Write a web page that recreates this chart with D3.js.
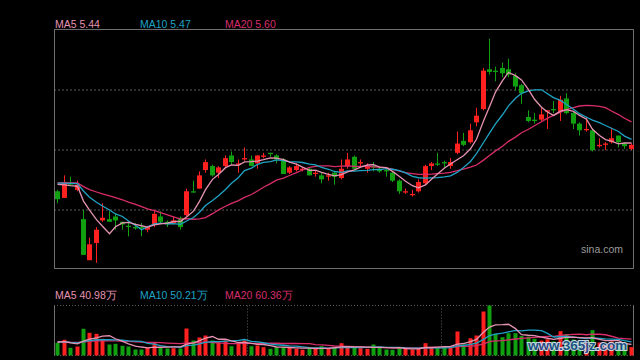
<!DOCTYPE html>
<html><head><meta charset="utf-8">
<script src="https://cdn.jsdelivr.net/npm/d3@7"></script>
<style>html,body{margin:0;padding:0;background:#000;}svg{display:block;}</style>
</head><body>
<svg id="c" width="640" height="360"></svg>
<script>
// ---- data ----
const opens = [5.08,5.03,5.14,5.09,4.87,4.56,4.69,4.86,4.87,4.89,
4.85,4.82,4.81,4.81,4.79,4.83,4.89,4.85,4.84,4.88,
4.90,5.08,5.10,5.24,5.27,5.22,5.27,5.35,5.28,5.32,
5.32,5.29,5.34,5.37,5.35,5.32,5.22,5.24,5.24,5.25,
5.21,5.20,5.19,5.22,5.18,5.27,5.34,5.29,5.25,5.27,
5.25,5.24,5.22,5.16,5.07,5.05,5.08,5.14,5.27,5.29,
5.30,5.27,5.37,5.46,5.45,5.60,5.70,6.00,5.99,6.01,
6.00,5.95,5.88,5.64,5.62,5.62,5.68,5.70,5.68,5.78,
5.67,5.59,5.54,5.54,5.42,5.43,5.45,5.50,5.44,5.40];
const closes = [5.02,5.15,5.13,5.13,4.60,4.68,4.79,4.88,4.85,4.86,
4.83,4.81,4.80,4.80,4.81,4.91,4.85,4.83,4.86,4.81,
5.08,5.07,5.20,5.30,5.20,5.26,5.33,5.30,5.29,5.33,
5.27,5.35,5.35,5.36,5.32,5.21,5.26,5.27,5.25,5.20,
5.22,5.17,5.20,5.19,5.25,5.32,5.25,5.30,5.27,5.26,
5.23,5.23,5.16,5.08,5.08,5.06,5.15,5.27,5.29,5.28,
5.29,5.30,5.44,5.43,5.54,5.65,5.99,5.98,5.98,5.97,
5.96,5.87,5.82,5.61,5.61,5.66,5.69,5.69,5.77,5.67,
5.59,5.54,5.55,5.39,5.43,5.44,5.48,5.45,5.42,5.43];
const highs = [5.09,5.20,5.19,5.16,4.94,4.73,4.81,4.99,4.93,4.91,
4.85,4.85,4.84,4.84,4.81,4.94,4.93,4.86,4.89,4.89,
5.10,5.16,5.23,5.32,5.28,5.27,5.35,5.38,5.32,5.41,
5.35,5.35,5.37,5.37,5.36,5.33,5.27,5.29,5.26,5.26,
5.24,5.22,5.22,5.23,5.32,5.37,5.35,5.32,5.29,5.30,
5.27,5.25,5.23,5.17,5.10,5.09,5.17,5.28,5.30,5.37,
5.31,5.33,5.53,5.52,5.59,5.71,6.01,6.23,6.02,6.05,
6.08,5.97,5.89,5.69,5.67,5.71,5.69,5.76,5.80,5.82,
5.68,5.60,5.64,5.55,5.48,5.45,5.56,5.50,5.45,5.44];
const lows = [4.99,5.03,5.13,5.08,4.60,4.56,4.54,4.85,4.85,4.79,
4.79,4.74,4.79,4.74,4.77,4.81,4.84,4.81,4.83,4.79,
4.89,5.07,5.10,5.22,5.19,5.18,5.26,5.28,5.22,5.31,
5.27,5.25,5.33,5.34,5.29,5.21,5.21,5.23,5.23,5.20,
5.19,5.14,5.16,5.13,5.17,5.25,5.24,5.27,5.22,5.23,
5.22,5.19,5.15,5.06,5.06,5.04,5.07,5.13,5.24,5.27,
5.26,5.25,5.36,5.42,5.44,5.57,5.69,5.96,5.91,5.94,
5.94,5.84,5.74,5.60,5.59,5.61,5.55,5.67,5.61,5.66,
5.55,5.50,5.53,5.38,5.41,5.39,5.44,5.41,5.40,5.39];
// volume, 万 (10k shares)
const volumes = [47.0,58.1,28.5,33.3,98.8,84.0,80.3,61.8,40.7,43.3,
35.9,33.3,22.2,22.2,28.5,49.2,30.7,25.9,27.0,25.9,
99.9,55.5,66.6,74.0,55.5,49.2,55.5,34.4,45.5,55.5,
34.4,37.0,30.7,24.8,30.7,30.7,30.7,24.8,21.1,28.5,
24.8,34.4,24.8,30.7,45.5,28.5,28.5,27.0,24.8,40.7,
30.7,22.2,21.1,30.7,24.8,22.2,24.8,45.5,30.7,30.7,
30.7,30.7,88.8,40.7,64.0,74.0,162.8,185.0,80.3,67.7,
82.5,82.5,72.0,70.0,62.0,55.0,60.0,52.0,90.0,79.1,
59.2,51.8,44.4,93.7,48.1,37.0,51.8,44.4,40.7,31.0];
// sessions before the window (needed for the moving-average warm-up)
const closePrior = [5.14,5.15,5.13,5.16,5.15,5.14,5.16,5.15,5.13,5.15,
5.16,5.14,5.15,5.16,5.15,5.17,5.16,5.15,5.16];
const volPrior = [48,52,45,55,50,47,53,49,51,46,54,50,48,52,47,51,53,49,50];
const maPeriods = [5, 10, 20];
const maNames = ["MA5", "MA10", "MA20"];
const priceDomain = [4.49, 6.30];
const monthBreaks = [30, 60];

// ---- styles ----
const maColors = ["#e593b2", "#1fa3c4", "#d92d6b"];
const upColor = "#ff2020", downColor = "#10a010";
const gridColor = "#5a5a5a", borderColor = "#6e6e6e";
const font = "'Liberation Sans', Arial, sans-serif";

const svg = d3.select("#c");
svg.append("rect").attr("width",640).attr("height",360).attr("fill","#000");

const L = 54, R = 634, T = 29.5, B = 269.5;
const VT = 305.5, VB = 355.5;
const n = closes.length;
const x = d3.scaleBand().domain(d3.range(n)).range([L, R]);
const cx = i => Math.round(x(i) + x.bandwidth()/2);
const y = d3.scaleLinear().domain(priceDomain).range([B, T]);
const yv = d3.scaleLinear().domain([0, d3.max(volumes)]).range([VB, VT]);

function movingAvg(prior, vals, p) {
  const all = prior.concat(vals), off = prior.length;
  return vals.map((v, i) => d3.mean(all.slice(off + i - p + 1, off + i + 1)));
}
const priceMA = maPeriods.map(p => movingAvg(closePrior, closes, p));
const volMA = maPeriods.map(p => movingAvg(volPrior, volumes, p));

// grid (main)
const gGrid = svg.append("g");
[1,2,3].forEach(k => {
  const yy = Math.round(T + (B - T) * k / 4);
  gGrid.append("line").attr("x1", L).attr("x2", R).attr("y1", yy).attr("y2", yy)
    .attr("stroke", gridColor).attr("stroke-width", 1).attr("stroke-dasharray", "2,2");
});
svg.append("rect").attr("x", L + 0.5).attr("y", T).attr("width", R - L - 1).attr("height", B - T - 1)
  .attr("fill", "none").attr("stroke", borderColor);

// candles
const gC = svg.append("g");
d3.range(n).forEach(i => {
  const up = closes[i] >= opens[i];
  const col = up ? upColor : downColor;
  const c = cx(i);
  gC.append("line").attr("x1", c + 0.5).attr("x2", c + 0.5)
    .attr("y1", y(highs[i])).attr("y2", y(lows[i])).attr("stroke", col).attr("stroke-width", 1);
  const top = y(Math.max(opens[i], closes[i])), bot = y(Math.min(opens[i], closes[i]));
  gC.append("rect").attr("x", c - 2).attr("width", 5)
    .attr("y", top).attr("height", Math.max(1, bot - top)).attr("fill", col);
});

// price MAs
const lineP = d3.line().x((d, i) => cx(i) + 0.5).y(d => y(d));
[2,1,0].forEach(k => {
  svg.append("path").attr("d", lineP(priceMA[k])).attr("fill", "none")
    .attr("stroke", maColors[k]).attr("stroke-width", 1.3);
});

// top legend
const legX = [55, 140, 225];
maNames.forEach((nm, k) => {
  svg.append("text").attr("x", legX[k]).attr("y", 28).attr("fill", maColors[k])
    .attr("font-family", font).attr("font-size", "10.5px")
    .text(nm + " " + priceMA[k][n - 1].toFixed(2));
});

svg.append("text").attr("x", 623).attr("y", 253).attr("text-anchor", "end")
  .attr("fill", "#9a9a9a").attr("font-family", font).attr("font-size", "10.5px").text("sina.com");

// volume panel frame
const gv = svg.append("g");
[VT, VB].forEach(yy => gv.append("line").attr("x1", L).attr("x2", R).attr("y1", yy).attr("y2", yy)
  .attr("stroke", gridColor).attr("stroke-dasharray", "1,2"));
monthBreaks.forEach(b => {
  const xx = Math.round(x(b)) + 0.5;
  gv.append("line").attr("x1", xx).attr("x2", xx).attr("y1", VT).attr("y2", VB)
    .attr("stroke", gridColor).attr("stroke-dasharray", "1,2");
});
[L + 0.5, R - 0.5].forEach(xx => gv.append("line").attr("x1", xx).attr("x2", xx)
  .attr("y1", VT).attr("y2", VB).attr("stroke", borderColor));

// volume bars
d3.range(n).forEach(i => {
  const up = closes[i] >= opens[i];
  const c = cx(i);
  gv.append("rect").attr("x", c - 1.5).attr("width", 4)
    .attr("y", yv(volumes[i])).attr("height", VB - yv(volumes[i]))
    .attr("fill", up ? upColor : downColor);
});
const lineV = d3.line().x((d, i) => cx(i) + 0.5).y(d => yv(d));
[2,1,0].forEach(k => {
  svg.append("path").attr("d", lineV(volMA[k])).attr("fill", "none")
    .attr("stroke", maColors[k]).attr("stroke-width", 1.3);
});
maNames.forEach((nm, k) => {
  svg.append("text").attr("x", legX[k]).attr("y", 298.5).attr("fill", maColors[k])
    .attr("font-family", font).attr("font-size", "10.5px")
    .text(nm + " " + volMA[k][n - 1].toFixed(2) + "万");
});

// watermark
svg.append("text").attr("x", 528).attr("y", 350)
  .attr("font-family", font).attr("font-weight", "bold").attr("font-size", "13.5px")
  .attr("fill", "#1d4f8f").attr("stroke", "#d8e8f6").attr("stroke-width", 2)
  .attr("paint-order", "stroke").attr("opacity", 0.9).text("www.365jz.com");
</script>
</body></html>
